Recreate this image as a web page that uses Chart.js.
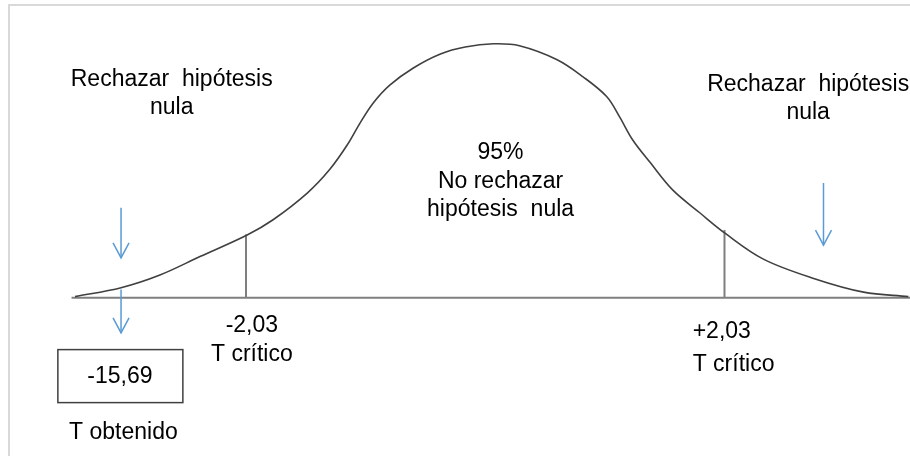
<!DOCTYPE html>
<html>
<head>
<meta charset="utf-8">
<script src="https://cdn.jsdelivr.net/npm/chart.js@4"></script>
<style>
  html, body { margin: 0; padding: 0; background: #fff; }
  canvas { display: block; }
</style>
</head>
<body>
<canvas id="tdist" width="910" height="456"></canvas>
<script>
// curve (x in t units, y as density)
const curveX = [-3.48, -3.09, -2.76, -2.42, -2.02, -1.80, -1.51, -1.32, -1.17, -1.06, -0.95, -0.81, -0.61, -0.38, -0.17, 0.07, 0.29, 0.61, 0.83, 1.03, 1.14, 1.25, 1.40, 1.59, 1.82, 2.04, 2.36, 2.78, 3.21, 3.59]
const curveY = [0.002, 0.016, 0.036, 0.065, 0.099, 0.123, 0.165, 0.202, 0.241, 0.276, 0.307, 0.335, 0.362, 0.384, 0.395, 0.400, 0.397, 0.375, 0.348, 0.317, 0.285, 0.249, 0.213, 0.170, 0.134, 0.101, 0.061, 0.031, 0.009, 0.002]

const tCritical = [-2.03, 2.03]
const criticalTop = [0.100, 0.107]
const tObtained = -15.69

const axisRange = [-3.51, 3.61]

// arrows: x, from y, to y
const arrowX = [-3.09, -3.09, 2.87]
const arrowFrom = [0.142, 0.013, 0.181]
const arrowTo = [0.063, -0.055, 0.083]

const grey = '#7f7f7f'
const blue = '#5b9bd5'

const datasets = [
  {
    label: 'curva',
    data: curveX.map((x, i) => ({x: x, y: curveY[i]})),
    borderColor: '#404040',
    borderWidth: 1.6,
    tension: 0.35,
    order: 1
  },
  {
    label: 'eje',
    data: axisRange.map(x => ({x: x, y: 0})),
    borderColor: grey,
    borderWidth: 2,
    order: 2
  }
]
tCritical.forEach((t, i) => {
  datasets.push({
    label: 'critico' + i,
    data: [{x: t, y: 0}, {x: t, y: criticalTop[i]}],
    borderColor: grey,
    borderWidth: 2,
    order: 3
  })
})
arrowX.forEach((x, i) => {
  datasets.push({
    label: 'flecha' + i,
    data: [{x: x, y: arrowFrom[i]}, {x: x, y: arrowTo[i]}],
    borderColor: blue,
    borderWidth: 1.5,
    arrow: true,
    order: 0
  })
})

const fmt = v => (v > 0 ? '+' : '') + v.toFixed(2).replace('.', ',')

// text blocks: lines, anchor in data units, alignment
const texts = [
  {lines: ['Rechazar  hipótesis', 'nula'], x: -2.66, y: 0.344, align: 'center'},
  {lines: ['Rechazar  hipótesis', 'nula'], x: 2.74, y: 0.336, align: 'center'},
  {lines: ['95%', 'No rechazar', 'hipótesis  nula'], x: 0.13, y: 0.228, align: 'center'},
  {lines: [fmt(-tCritical[1]), 'T crítico'], x: -1.98, y: -0.043, align: 'center', gap: 29},
  {lines: [fmt(tCritical[1]), 'T crítico'], x: 1.76, y: -0.053, align: 'left', gap: 33},
  {lines: [fmt(tObtained)], x: -3.10, y: -0.124, align: 'center', box: true},
  {lines: ['T obtenido'], x: -3.07, y: -0.213, align: 'center'}
]

const decor = {
  id: 'decor',
  beforeDraw(chart) {
    const c = chart.ctx
    c.save()
    c.strokeStyle = '#d9d9d9'
    c.lineWidth = 2
    c.beginPath()
    c.moveTo(9, 456)
    c.lineTo(9, 5)
    c.lineTo(910, 5)
    c.stroke()
    c.restore()
  },
  afterDatasetsDraw(chart) {
    const c = chart.ctx
    const sx = chart.scales.x, sy = chart.scales.y
    c.save()
    // arrow heads
    chart.data.datasets.forEach((ds, i) => {
      if (!ds.arrow) return
      const pts = chart.getDatasetMeta(i).data
      const end = pts[pts.length - 1]
      c.strokeStyle = ds.borderColor
      c.lineWidth = 1.5
      c.beginPath()
      c.moveTo(end.x - 8, end.y - 15)
      c.lineTo(end.x, end.y)
      c.lineTo(end.x + 8, end.y - 15)
      c.stroke()
    })
    // labels
    c.fillStyle = '#000'
    c.font = '23px "Liberation Sans", Arial, sans-serif'
    c.textBaseline = 'middle'
    texts.forEach(t => {
      const px = sx.getPixelForValue(t.x)
      const py = sy.getPixelForValue(t.y)
      const gap = t.gap || 28.5
      c.textAlign = t.align
      t.lines.forEach((line, k) => c.fillText(line, px, py + k * gap))
      if (t.box) {
        c.strokeStyle = '#404040'
        c.lineWidth = 1.5
        c.strokeRect(px - 62, py - 27, 125, 53)
      }
    })
    c.restore()
  }
}

new Chart(document.getElementById('tdist'), {
  type: 'scatter',
  data: {datasets: datasets},
  options: {
    responsive: false,
    animation: false,
    showLine: true,
    layout: {padding: 0},
    elements: {point: {radius: 0, hoverRadius: 0}},
    scales: {
      x: {type: 'linear', display: false, min: -4.117, max: 3.604},
      y: {type: 'linear', display: false, min: -0.249, max: 0.469}
    },
    plugins: {
      legend: {display: false},
      tooltip: {enabled: false}
    }
  },
  plugins: [decor]
})
</script>
</body>
</html>
